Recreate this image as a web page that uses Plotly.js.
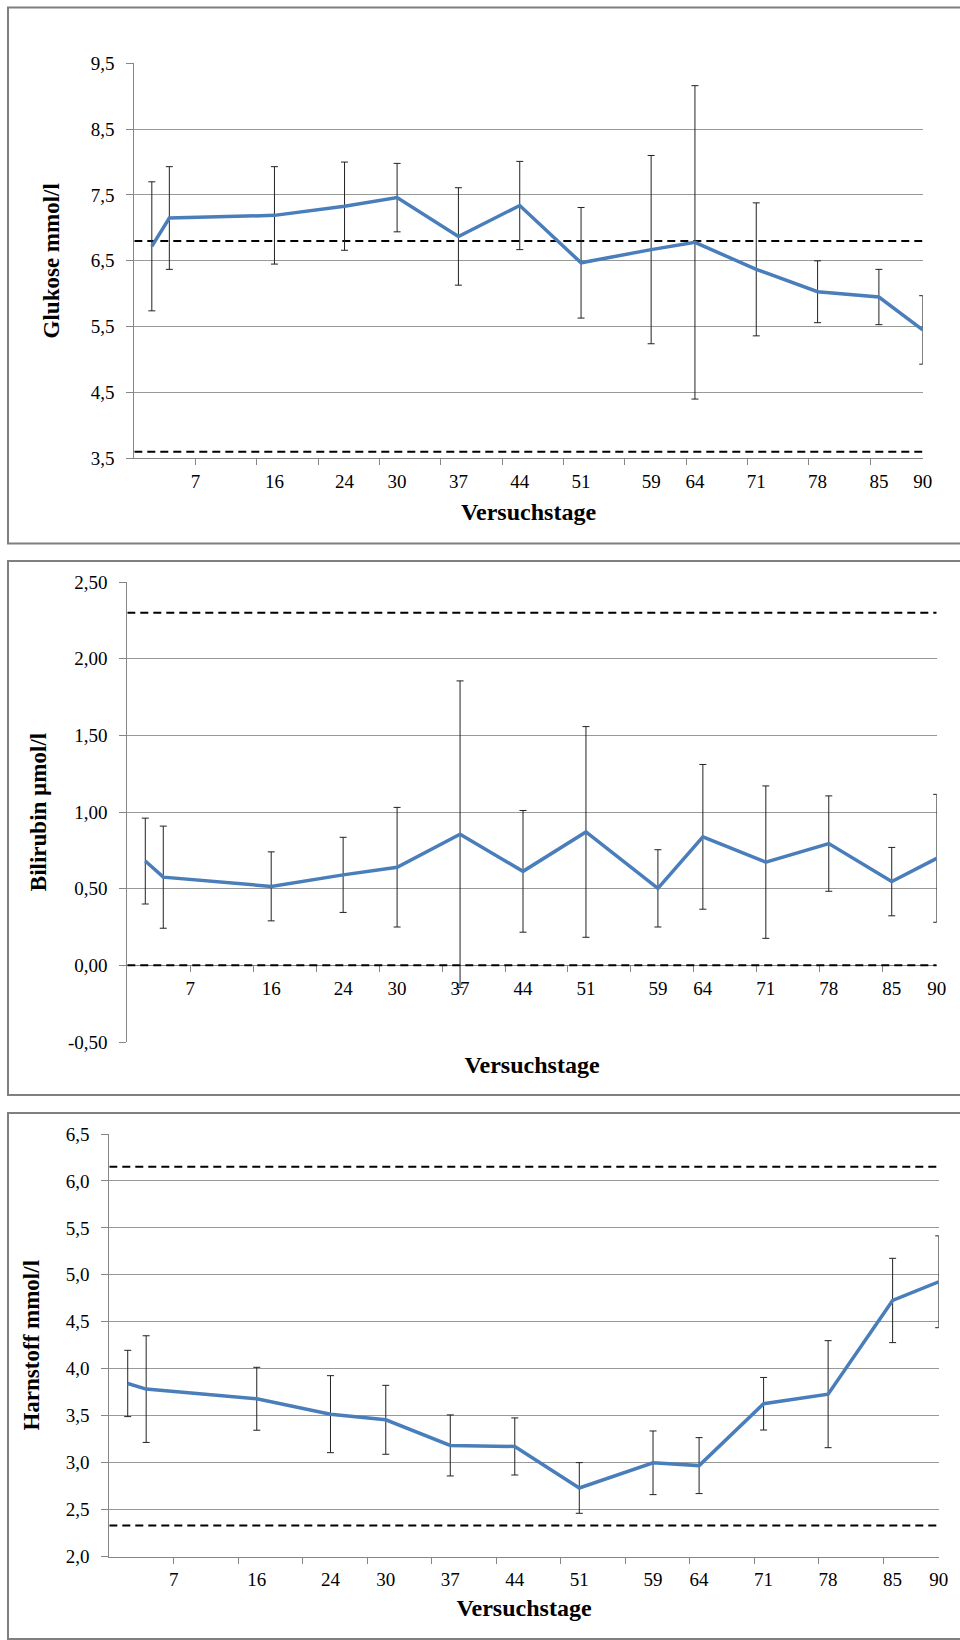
<!DOCTYPE html>
<html>
<head>
<meta charset="utf-8">
<script src="https://cdn.plot.ly/plotly-3.0.1.min.js"></script>
<style>html,body{margin:0;padding:0;background:#fff}#chart{width:960px;height:1640px}</style>
</head>
<body>
<div id="chart"></div>
<script>
// ---------- data ----------
const days = [2, 4, 16, 24, 30, 37, 44, 51, 59, 64, 71, 78, 85, 90];
const xTickVals = [7, 16, 24, 30, 37, 44, 51, 59, 64, 71, 78, 85, 90];
const xTickText = ['7', '16', '24', '30', '37', '44', '51', '59', '64', '71', '78', '85', '90'];
const xRange = [0, 90];

const glukoseMean = [6.72, 7.15, 7.19, 7.33, 7.46, 6.87, 7.34, 6.47, 6.67, 6.78, 6.37, 6.03, 5.95, 5.45];
const glukoseSD   = [0.98, 0.78, 0.74, 0.67, 0.52, 0.74, 0.67, 0.84, 1.43, 2.38, 1.01, 0.47, 0.42, 0.52];
const glukoseRef  = [3.6, 6.8];
const glukoseTickVals = [3.5, 4.5, 5.5, 6.5, 7.5, 8.5, 9.5];
const glukoseTickText = ['3,5', '4,5', '5,5', '6,5', '7,5', '8,5', '9,5'];

const bilirubinMean = [0.68, 0.575, 0.515, 0.59, 0.64, 0.855, 0.613, 0.87, 0.502, 0.838, 0.673, 0.794, 0.546, 0.698];
const bilirubinSD   = [0.28, 0.333, 0.225, 0.245, 0.39, 1.0, 0.397, 0.687, 0.252, 0.472, 0.497, 0.311, 0.223, 0.417];
const bilirubinRef  = [0, 2.3];
const bilirubinTickVals = [-0.5, 0, 0.5, 1, 1.5, 2, 2.5];
const bilirubinTickText = ['-0,50', '0,00', '0,50', '1,00', '1,50', '2,00', '2,50'];

const harnstoffMean = [3.843, 3.783, 3.68, 3.516, 3.456, 3.183, 3.172, 2.73, 2.998, 2.968, 3.627, 3.729, 4.727, 4.926];
const harnstoffSD   = [0.353, 0.568, 0.335, 0.41, 0.367, 0.325, 0.304, 0.27, 0.339, 0.298, 0.28, 0.57, 0.449, 0.489];
const harnstoffRef  = [2.33, 6.15];
const harnstoffTickVals = [2, 2.5, 3, 3.5, 4, 4.5, 5, 5.5, 6, 6.5];
const harnstoffTickText = ['2,0', '2,5', '3,0', '3,5', '4,0', '4,5', '5,0', '5,5', '6,0', '6,5'];

// ---------- layout helpers ----------
const W = 960, H = 1640;
const FONT = 'Liberation Serif';
const GRAY = '#868686';
const BLUE = '#4A7EBB';

const panels = [
  {key: '',  mean: glukoseMean,   sd: glukoseSD,   ref: glukoseRef,   tv: glukoseTickVals,   tt: glukoseTickText,
   yrange: [3.5, 9.5],  ytitle: 'Glukose mmol/l',    box: {l: 134.3, r: 922.7, t: 63.3, b: 458.3},
   ystand: 24, xstand: 12, cross: null, frame: {t: 7.5, b: 543.5}},
  {key: '2', mean: bilirubinMean, sd: bilirubinSD, ref: bilirubinRef, tv: bilirubinTickVals, tt: bilirubinTickText,
   yrange: [-0.5, 2.5], ytitle: 'Bilirubin µmol/l',  box: {l: 127.3, r: 936.7, t: 582, b: 1042},
   ystand: 14, xstand: 58, cross: 0, frame: {t: 561, b: 1095}},
  {key: '3', mean: harnstoffMean, sd: harnstoffSD, ref: harnstoffRef, tv: harnstoffTickVals, tt: harnstoffTickText,
   yrange: [2, 6.5],    ytitle: 'Harnstoff mmol/l',  box: {l: 109.3, r: 938.7, t: 1134, b: 1556.5},
   ystand: 19, xstand: 9, cross: null, frame: {t: 1113, b: 1639}}
];

const traces = [];
const layout = {
  width: W, height: H,
  margin: {l: 0, r: 0, t: 0, b: 0},
  paper_bgcolor: '#fff', plot_bgcolor: '#fff',
  showlegend: false,
  separators: ',.',
  font: {family: FONT, color: '#000'},
  shapes: []
};

panels.forEach(p => {
  const xa = 'x' + p.key, ya = 'y' + p.key;
  const yDom = [1 - p.box.b / H, 1 - p.box.t / H];
  const xDom = [p.box.l / W, p.box.r / W];

  p.ref.forEach(v => {
    traces.push({
      type: 'scatter', mode: 'lines', xaxis: xa, yaxis: ya,
      x: [xRange[0], xRange[1]], y: [v, v],
      line: {color: '#000', width: 2, dash: '8px,5px'},
      hoverinfo: 'skip'
    });
  });

  traces.push({
    type: 'scatter', mode: 'lines', xaxis: xa, yaxis: ya,
    x: days, y: p.mean,
    line: {color: BLUE, width: 3.5},
    error_y: {type: 'data', array: p.sd, visible: true, color: '#222', thickness: 1, width: 3.5}
  });

  const xAxis = {
    domain: xDom, range: xRange, anchor: ya,
    tickmode: 'array', tickvals: xTickVals, ticktext: xTickText,
    ticks: 'inside', ticklen: 0, tickcolor: 'rgba(0,0,0,0)',
    minor: {tickmode: 'linear', tick0: 0, dtick: 7, ticks: 'outside', ticklen: 6, tickcolor: GRAY, tickwidth: 1, showgrid: false},
    showline: true, linecolor: GRAY, linewidth: 1,
    showgrid: false, zeroline: false,
    layer: 'below traces',
    tickfont: {family: FONT, size: 19, color: '#000'},
    ticklabelstandoff: 6,
    title: {text: 'Versuchstage', font: {family: FONT, size: 24, color: '#000', weight: 'bold'}, standoff: p.xstand},
    fixedrange: true
  };
  if (p.cross !== null) {
    xAxis.anchor = 'free';
    xAxis.position = yDom[0] + (p.cross - p.yrange[0]) / (p.yrange[1] - p.yrange[0]) * (yDom[1] - yDom[0]);
  }
  layout['xaxis' + p.key] = xAxis;

  layout['yaxis' + p.key] = {
    domain: yDom, range: p.yrange, anchor: xa,
    tickmode: 'array', tickvals: p.tv, ticktext: p.tt,
    ticks: 'outside', ticklen: 7, tickcolor: GRAY, tickwidth: 1,
    showline: true, linecolor: GRAY, linewidth: 1,
    showgrid: true, gridcolor: '#999', gridwidth: 1, zeroline: false,
    layer: 'below traces',
    tickfont: {family: FONT, size: 19, color: '#000'},
    ticklabelstandoff: 8,
    title: {text: p.ytitle, font: {family: FONT, size: 23, color: '#000', weight: 'bold'}, standoff: p.ystand},
    fixedrange: true
  };

  layout.shapes.push({
    type: 'rect', xref: 'paper', yref: 'paper', layer: 'below',
    x0: 8 / W, x1: 1.02, y0: 1 - p.frame.b / H, y1: 1 - p.frame.t / H,
    line: {color: '#7f7f7f', width: 2}, fillcolor: 'rgba(0,0,0,0)'
  });
});

Plotly.newPlot('chart', traces, layout, {displayModeBar: false, staticPlot: true});
</script>
</body>
</html>
